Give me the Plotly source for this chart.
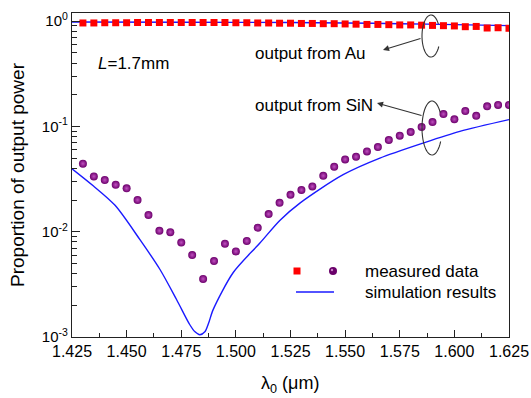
import plotly.graph_objects as go
import math

# ---------------- data ----------------
lambda_meas = [1.430, 1.435, 1.440, 1.445, 1.450, 1.455, 1.460, 1.465, 1.470, 1.475,
               1.480, 1.485, 1.490, 1.495, 1.500, 1.505, 1.510, 1.515, 1.520, 1.525,
               1.530, 1.535, 1.540, 1.545, 1.550, 1.555, 1.560, 1.565, 1.570, 1.575,
               1.580, 1.585, 1.590, 1.595, 1.600, 1.605, 1.610, 1.615, 1.620, 1.625]

au_meas = [0.96, 0.96, 0.965, 0.965, 0.965, 0.97, 0.97, 0.97, 0.97, 0.97,
           0.97, 0.97, 0.97, 0.97, 0.965, 0.965, 0.96, 0.96, 0.955, 0.955,
           0.95, 0.95, 0.945, 0.945, 0.94, 0.935, 0.93, 0.93, 0.925, 0.92,
           0.92, 0.915, 0.91, 0.905, 0.90, 0.885, 0.89, 0.86, 0.865, 0.855]

sin_meas = [0.0443, 0.0335, 0.0310, 0.0279, 0.0258, 0.0200, 0.0144, 0.0102, 0.0099, 0.0079,
            0.0060, 0.00356, 0.00527, 0.00769, 0.0065, 0.00817, 0.0109, 0.0147, 0.0188, 0.0224,
            0.0249, 0.0269, 0.0340, 0.0414, 0.0486, 0.0515, 0.0579, 0.0637, 0.0743, 0.0817,
            0.0885, 0.0987, 0.110, 0.131, 0.117, 0.140, 0.126, 0.155, 0.160, 0.160]

lambda_sim_au = [1.425, 1.475, 1.525, 1.550, 1.575, 1.600, 1.625]
au_sim = [0.98, 0.975, 0.97, 0.96, 0.945, 0.925, 0.905]

lambda_sim_sin = [1.425, 1.4347, 1.4447, 1.4561, 1.4652, 1.4729, 1.4790, 1.4813,
                  1.4835, 1.4858, 1.4875, 1.4896, 1.4988, 1.5110, 1.5201, 1.5293, 1.5491,
                  1.5659, 1.5857, 1.6025, 1.625]
sin_sim = [0.0396, 0.0273, 0.0178, 0.0084, 0.0044, 0.00226, 0.00130, 0.00112,
           0.00105, 0.00112, 0.00135, 0.00182, 0.0041, 0.0078, 0.0128, 0.0187, 0.0348,
           0.0500, 0.0695, 0.0897, 0.116]

x_ticks = [1.425, 1.450, 1.475, 1.500, 1.525, 1.550, 1.575, 1.600, 1.625]
x_ticklabels = ["1.425", "1.450", "1.475", "1.500", "1.525", "1.550", "1.575", "1.600", "1.625"]
x_minor = [1.4375, 1.4625, 1.4875, 1.5125, 1.5375, 1.5625, 1.5875, 1.6125]
y_ticks = [0.001, 0.01, 0.1, 1]
y_ticklabels = ["10<sup>-3</sup>", "10<sup>-2</sup>", "10<sup>-1</sup>", "10<sup>0</sup>"]
y_minor = [m * d for d in (0.001, 0.01, 0.1) for m in (2, 3, 4, 5, 6, 7, 8, 9)]

# ---------------- layout helpers ----------------
W, H = 531, 398
L_, R_, T_, B_ = 72, 22, 13, 61
PW, PH = W - L_ - R_, H - T_ - B_
FONT = "Liberation Sans, Arial, sans-serif"


def px2paper(px, py):
    return (px - L_) / PW, (H - B_ - py) / PH


fig = go.Figure()

# simulation lines
fig.add_trace(go.Scatter(x=lambda_sim_au, y=au_sim, mode="lines",
                         line=dict(color="#1a1aff", width=1.4, shape="spline", smoothing=0.6),
                         showlegend=False, hoverinfo="skip"))
fig.add_trace(go.Scatter(x=lambda_sim_sin, y=sin_sim, mode="lines",
                         line=dict(color="#1a1aff", width=1.4, shape="spline", smoothing=0.8),
                         showlegend=False, hoverinfo="skip"))
# measured
fig.add_trace(go.Scatter(x=lambda_meas, y=au_meas, mode="markers",
                         marker=dict(symbol="square", size=7, color="#ff0000", line=dict(width=0)),
                         showlegend=False))
fig.add_trace(go.Scatter(x=lambda_meas, y=sin_meas, mode="markers",
                         marker=dict(symbol="circle", size=8, color="#6c006c",
                                     gradient=dict(type="radial", color="#c050c0"),
                                     line=dict(width=0)),
                         showlegend=False))

axis_common = dict(showline=True, linecolor="#222", linewidth=1.3, mirror=True,
                   ticks="inside", tickcolor="#222", tickwidth=1.2,
                   showgrid=False, zeroline=False)

fig.update_xaxes(range=[1.425, 1.625], tickmode="array", tickvals=x_ticks, ticktext=x_ticklabels,
                 ticklen=7, tickfont=dict(family=FONT, size=16, color="black"),
                 minor=dict(tickmode="array", tickvals=x_minor, ticks="inside", ticklen=4,
                            tickcolor="#222", tickwidth=1.2),
                 **axis_common)
fig.update_yaxes(type="log", range=[-3, 0.077], tickmode="array", tickvals=y_ticks,
                 ticktext=y_ticklabels, ticklen=8, tickfont=dict(family=FONT, size=15, color="black"),
                 minor=dict(tickmode="array", tickvals=y_minor, ticks="inside", ticklen=5,
                            tickcolor="#222", tickwidth=1.2),
                 title=dict(text="Proportion of output power",
                            font=dict(family=FONT, size=19, color="black"), standoff=12),
                 **axis_common)

shapes = []
annotations = []


def ellipse_arc(cx, cy, rx, ry, t0, t1, n=40):
    pts = []
    for i in range(n + 1):
        t = math.radians(t0 + (t1 - t0) * i / n)
        x = cx + rx * math.cos(t)
        y = cy - ry * math.sin(t)
        pts.append(px2paper(x, y))
    return "M " + " L ".join(f"{a:.5f},{b:.5f}" for a, b in pts)


for (cx, cy, rx, ry) in [(431, 36, 9, 21), (432, 128, 10, 27)]:
    shapes.append(dict(type="path", xref="paper", yref="paper",
                       path=ellipse_arc(cx, cy, rx, ry, 35, 330),
                       line=dict(color="#333", width=1.1)))

# arrows
for (hx, hy, tx, ty) in [(383, 50, 422, 38), (377, 103, 423, 116)]:
    xp, yp = px2paper(hx, hy)
    annotations.append(dict(x=xp, y=yp, xref="paper", yref="paper", text="", showarrow=True,
                            ax=tx - hx, ay=ty - hy, arrowhead=2, arrowsize=1.1, arrowwidth=1.1,
                            arrowcolor="#333"))


def add_text(txt, px, py, size=17, anchor="left"):
    xp, yp = px2paper(px, py)
    annotations.append(dict(x=xp, y=yp, xref="paper", yref="paper", text=txt, showarrow=False,
                            xanchor=anchor, yanchor="middle",
                            font=dict(family=FONT, size=size, color="black")))


add_text("output from Au", 253, 53)
add_text("output from SiN", 253, 105)
add_text("<i>L</i>=1.7mm", 96, 63)
add_text("measured data", 363, 271)
add_text("simulation results", 363, 292)
# x-axis title
add_text("λ<sub>0</sub> (μm)", 290, 384, size=18, anchor="center")

# legend icons
sx, sy = px2paper(297, 271)
shapes.append(dict(type="rect", xref="paper", yref="paper",
                   x0=sx - 3.5 / PW, x1=sx + 3.5 / PW, y0=sy - 3.5 / PH, y1=sy + 3.5 / PH,
                   fillcolor="#ff0000", line=dict(width=0)))
cx_, cy_ = px2paper(333, 271)
shapes.append(dict(type="circle", xref="paper", yref="paper",
                   x0=cx_ - 4 / PW, x1=cx_ + 4 / PW, y0=cy_ - 4 / PH, y1=cy_ + 4 / PH,
                   fillcolor="#6a006a", line=dict(width=0)))
shapes.append(dict(type="circle", xref="paper", yref="paper",
                   x0=cx_ - 2.2 / PW, x1=cx_ + 0.2 / PW, y0=cy_ - 0.2 / PH, y1=cy_ + 2.2 / PH,
                   fillcolor="#c880c8", line=dict(width=0)))
l0, ly = px2paper(296, 292)
l1, _ = px2paper(334, 292)
shapes.append(dict(type="line", xref="paper", yref="paper", x0=l0, x1=l1, y0=ly, y1=ly,
                   line=dict(color="#1a1aff", width=1.4)))

fig.update_layout(width=W, height=H, margin=dict(l=L_, r=R_, t=T_, b=B_, autoexpand=False),
                  plot_bgcolor="white", paper_bgcolor="white", showlegend=False,
                  shapes=shapes, annotations=annotations,
                  font=dict(family=FONT, color="black"))

fig.write_html("out.html", config={"displayModeBar": False},
               post_script="document.body.style.margin='0';document.body.style.overflow='hidden';")
